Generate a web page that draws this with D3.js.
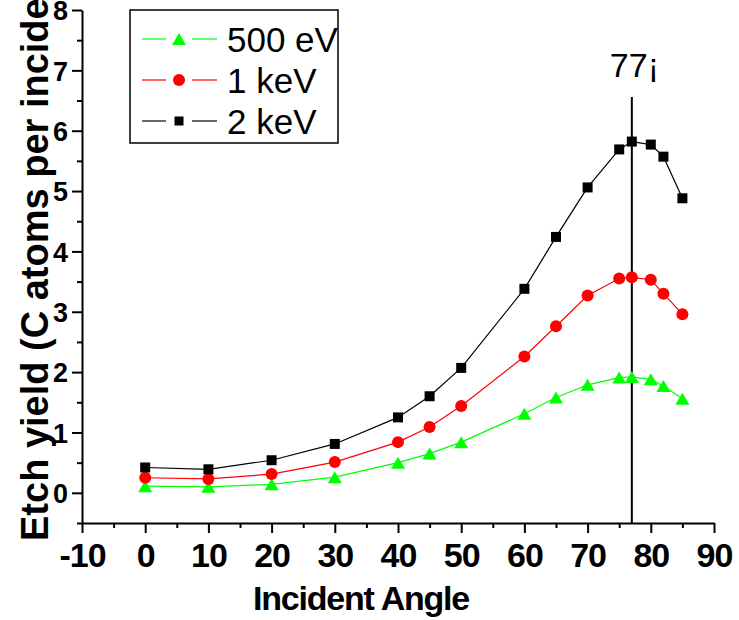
<!DOCTYPE html>
<meta charset="utf-8">
<style>
body { margin: 0; background: #fff; }
svg { display: block; font-family: "Liberation Sans", Arial, sans-serif; }
.axis path, .axis line { stroke: #000; stroke-width: 2px; }
.series-line { fill: none; stroke-width: 1.2px; }
</style>
<svg width="739" height="620"></svg>
<script src="https://d3js.org/d3.v7.min.js"></script>
<script>

// incident angle (deg)
var angles = [0, 10, 20, 30, 40, 45, 50, 60, 65, 70, 75, 77, 80, 82, 85];

// etch yield per ion energy
var yield500eV = [0.11, 0.10, 0.14, 0.26, 0.50, 0.65, 0.84, 1.31, 1.58, 1.79, 1.91, 1.92, 1.88, 1.77, 1.56];
var yield1keV  = [0.25, 0.23, 0.31, 0.51, 0.84, 1.09, 1.44, 2.26, 2.76, 3.27, 3.55, 3.57, 3.53, 3.30, 2.96];
var yield2keV  = [0.42, 0.39, 0.54, 0.81, 1.25, 1.60, 2.07, 3.38, 4.24, 5.06, 5.69, 5.82, 5.77, 5.57, 4.88];

var seriesNames = ["500 eV", "1 keV", "2 keV"];
var xTicks = [-10, 0, 10, 20, 30, 40, 50, 60, 70, 80, 90];
var yTicks = [0, 1, 2, 3, 4, 5, 6, 7, 8];
var peakAngle = 77;
var peakLabel = "77¡";

var svg = d3.select("svg");

var x = d3.scaleLinear().domain([-10, 90]).range([82, 714]),
    y = d3.scaleLinear().domain([-0.5, 8]).range([523, 10]);

var colors = ["#00ff00", "#ff0000", "#000000"];
var series = [yield500eV, yield1keV, yield2keV].map(function(vals, i) {
  return {
    name: seriesNames[i],
    color: colors[i],
    shape: ["triangle", "circle", "square"][i],
    points: angles.map(function(a, j) { return {a: a, v: vals[j]}; })
  };
});

// y title goes under the tick labels
svg.append("text")
    .attr("transform", "translate(48,541) rotate(-90)")
    .style("font-size", "38px")
    .style("font-weight", "bold")
    .text("Etch yield (C atoms per incident ion)");

// x axis (minor ticks, then major)
svg.append("g")
    .attr("class", "axis")
    .attr("transform", "translate(0," + y(-0.5) + ")")
    .call(d3.axisBottom(x).tickValues(d3.range(-5, 90, 10)).tickSize(5).tickSizeOuter(0).tickFormat(""))
    .select(".domain").remove();

var xAxis = svg.append("g")
    .attr("class", "axis")
    .attr("transform", "translate(0," + y(-0.5) + ")")
    .call(d3.axisBottom(x).tickValues(xTicks).tickSize(10).tickSizeOuter(0)
      .tickFormat(function(d) { return String(d); }));

xAxis.selectAll("text")
    .attr("y", 44)
    .attr("dy", null)
    .style("font-size", "34px")
    .style("font-weight", "bold")
    .style("letter-spacing", "-1px")
    .attr("fill", "#000");

// y axis
svg.append("g")
    .attr("class", "axis")
    .attr("transform", "translate(" + x(-10) + ",0)")
    .call(d3.axisLeft(y).tickValues(d3.range(-0.5, 8, 1)).tickSize(5).tickSizeOuter(0).tickFormat(""))
    .select(".domain").remove();

var yAxis = svg.append("g")
    .attr("class", "axis")
    .attr("transform", "translate(" + x(-10) + ",0)")
    .call(d3.axisLeft(y).tickValues(yTicks).tickSize(10).tickSizeOuter(0)
      .tickFormat(function(d) { return String(d); }));

yAxis.selectAll("text")
    .attr("x", -14)
    .attr("dy", "0.36em")
    .style("font-size", "27px")
    .style("font-weight", "bold")
    .attr("fill", "#000");

svg.append("text")
    .attr("x", 361)
    .attr("y", 610)
    .attr("text-anchor", "middle")
    .style("font-size", "34px")
    .style("font-weight", "bold")
    .style("letter-spacing", "-1.2px")
    .text("Incident Angle");

// vertical marker at the peak angle
svg.append("line")
    .attr("x1", x(peakAngle)).attr("x2", x(peakAngle))
    .attr("y1", 97).attr("y2", y(-0.5))
    .attr("stroke", "#000")
    .attr("stroke-width", 2);

svg.append("text")
    .attr("x", x(peakAngle) - 22)
    .attr("y", 77)
    .style("font-size", "34px")
    .text(peakLabel);

function drawMarker(sel, shape, color, cx, cy, small) {
  if (shape == "square") {
    var s = small ? 9 : 10;
    sel.append("rect")
        .attr("x", cx - s / 2).attr("y", cy - s / 2)
        .attr("width", s).attr("height", s)
        .attr("fill", color);
  } else if (shape == "circle") {
    sel.append("circle")
        .attr("cx", cx).attr("cy", cy).attr("r", 6)
        .attr("fill", color);
  } else {
    sel.append("path")
        .attr("d", "M" + cx + "," + (cy - 6) + "L" + (cx + 7) + "," + (cy + 6) + "L" + (cx - 7) + "," + (cy + 6) + "Z")
        .attr("fill", color);
  }
}

var line = d3.line()
    .x(function(d) { return x(d.a); })
    .y(function(d) { return y(d.v); });

series.forEach(function(s) {
  svg.append("path")
      .attr("class", "series-line")
      .attr("stroke", s.color)
      .attr("d", line(s.points));
});

series.forEach(function(s) {
  var g = svg.append("g");
  s.points.forEach(function(d) {
    drawMarker(g, s.shape, s.color, x(d.a), y(d.v));
  });
});

// legend
var legend = svg.append("g");
legend.append("rect")
    .attr("x", 130).attr("y", 10)
    .attr("width", 208).attr("height", 133)
    .attr("fill", "#fff")
    .attr("stroke", "#000")
    .attr("stroke-width", 1.5);

series.forEach(function(s, i) {
  var ly = 39 + i * 41;
  legend.append("line").attr("x1", 142).attr("x2", 166).attr("y1", ly).attr("y2", ly)
      .attr("stroke", s.color).attr("stroke-width", 1.2);
  legend.append("line").attr("x1", 192).attr("x2", 217).attr("y1", ly).attr("y2", ly)
      .attr("stroke", s.color).attr("stroke-width", 1.2);
  drawMarker(legend, s.shape, s.color, 179, ly, true);
  legend.append("text")
      .attr("x", 227)
      .attr("y", ly + 12.5)
      .style("font-size", "35px")
      .text(s.name);
});

</script>
